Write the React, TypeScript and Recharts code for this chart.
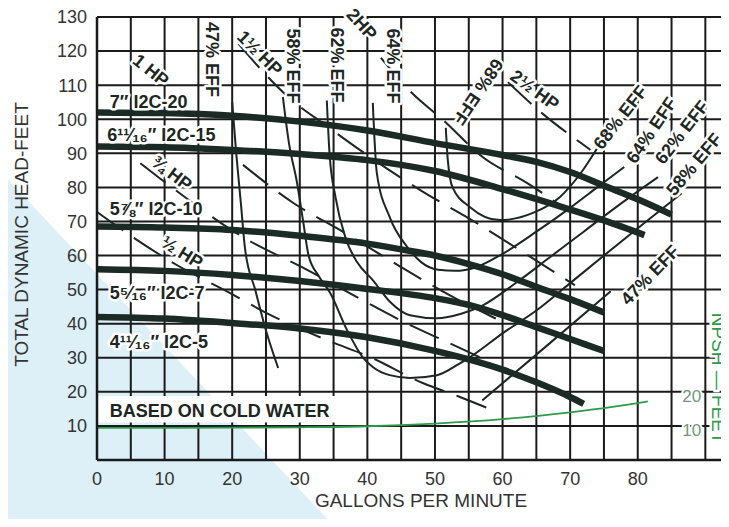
import {
  CartesianGrid,
  ComposedChart,
  Line,
  ReferenceArea,
  ReferenceDot,
  XAxis,
  YAxis,
} from 'recharts';

type Pt = [number, number];

// axes
const gpmTicks = [0, 10, 20, 30, 40, 50, 60, 70, 80];
const gpmGrid = [0, 5, 10, 15, 20, 25, 30, 35, 40, 45, 50, 55, 60, 65, 70, 75, 80, 85, 90];
const headTicks = [10, 20, 30, 40, 50, 60, 70, 80, 90, 100, 110, 120, 130];
const headGrid = [0, 10, 20, 30, 40, 50, 60, 70, 80, 90, 100, 110, 120, 130];
const npshTicks = [10, 20];

// impeller curves (gpm, head ft)
const imp7: Pt[] = [[0, 102], [10, 101.8], [20, 101], [30, 99.3], [40, 96.7], [50, 93], [60, 89.5], [65, 87.5], [70, 84.5], [75, 80.5], [80, 76.5], [85, 72]];
const imp61116: Pt[] = [[0, 92], [10, 91.8], [20, 91], [30, 89.8], [40, 88], [50, 84.8], [60, 79.5], [70, 73.5], [75, 70.3], [81, 66]];
const imp578: Pt[] = [[0, 68.5], [10, 68.2], [20, 67.5], [30, 65.8], [40, 63.5], [45, 61.8], [50, 60], [55, 57.5], [60, 54.5], [65, 50.8], [70, 47.2], [75, 43.3]];
const imp5516: Pt[] = [[0, 56], [10, 55.5], [20, 54.3], [30, 52.5], [40, 50.2], [50, 47.5], [55, 45.5], [60, 42.5], [65, 39], [70, 35.5], [75, 32]];
const imp41116: Pt[] = [[0, 42], [10, 41.5], [20, 40.2], [30, 38.6], [40, 36], [50, 32], [55, 29.5], [60, 26.5], [65, 22.8], [70, 18.5], [72, 16.5]];

// efficiency lines
const eff47a: Pt[] = [[20, 105], [20.6, 90], [21.3, 75], [21.9, 62], [23.4, 50], [25, 38], [26.8, 27]];
const eff47b: Pt[] = [[57, 17.5], [67, 34.3], [76, 49.5]];
const eff58: Pt[] = [[27.5, 106.5], [28.4, 93], [29.6, 81.3], [30.5, 70], [31.3, 60], [32.8, 54], [34.5, 49], [37, 38.1], [39.3, 30.2], [40.8, 27.3], [43.3, 24.9], [46.3, 24.1], [50.3, 24.9], [53.3, 27.9], [55.2, 30.2], [60.1, 37.3], [65.1, 44], [70, 51.9], [75, 60], [80, 68], [86.5, 78.3]];
const eff62: Pt[] = [[34, 105.5], [34.4, 90], [35.3, 77], [36.8, 65], [38.5, 58], [40.8, 52.8], [43.3, 46.5], [46.3, 42.5], [50.3, 41.6], [54, 43], [57, 45.3], [62, 52], [67, 59.5], [72, 67], [77, 74.5], [83, 83]];
const eff64: Pt[] = [[40.8, 104.8], [41.4, 84.2], [43.3, 71.3], [45.9, 62.5], [48, 58], [50.5, 55.8], [53, 55.5], [56, 56.5], [60, 60.5], [65, 67], [70, 74], [74, 80], [78, 86]];
const eff68: Pt[] = [[51.6, 97.5], [51.9, 88], [52.6, 80], [55.2, 74.2], [59.6, 70.4], [64.5, 72.5], [68.5, 77.2], [71.5, 84], [74, 91.5]];

// horsepower lines
const hp12: Pt[] = [[0, 72.8], [5.3, 65.4], [12, 57], [19.7, 49], [25.1, 43.1], [34, 35.2], [40.4, 30.2], [48.2, 22.6], [53.7, 18.5], [57.7, 15.3]];
const hp34: Pt[] = [[6.4, 87.1], [11.2, 79.8], [21.6, 65.4], [31.1, 55.8], [39.3, 46.9], [44.8, 41.1], [51.8, 34.6], [58.1, 28.8]];
const hp1: Pt[] = [[21.6, 86.6], [29, 75.5], [36.7, 66.6], [44, 57.8], [52.7, 47.8], [59, 41.5]];
const hp112: Pt[] = [[20.9, 122.2], [28.3, 106.5], [34, 98], [40.4, 88.9], [48, 79], [56.2, 69.5], [63, 61], [70.7, 51.3]];
const hp2: Pt[] = [[42, 118], [46.6, 107.7], [51.2, 99.8], [57, 89], [63.6, 81.3], [68.5, 74.8]];
const hp212: Pt[] = [[60.8, 110.9], [66, 101.5], [71.4, 93.3], [73, 91]];

// NPSH required (right scale)
const npsh: Pt[] = [[0, 10.6], [20, 10.7], [30, 10.8], [40, 11.1], [50, 11.9], [60, 13.2], [70, 15.2], [76, 16.7], [81.5, 18.4]];

const curveLabels = [
  { x: 1.9, y: 105.2, text: '7″ I2C-20' },
  { x: 1.5, y: 95.4, text: '6¹¹⁄₁₆″ I2C-15' },
  { x: 1.9, y: 73.8, text: '5⅞″ I2C-10' },
  { x: 1.9, y: 49.1, text: '5⁵⁄₁₆″ I2C-7' },
  { x: 1.9, y: 34.8, text: '4¹¹⁄₁₆″ I2C-5' },
  { x: 1.9, y: 14.6, text: 'BASED ON COLD WATER' },
];

const tiltedLabels = [
  { x: 8, y: 114.4, text: '1 HP', angle: 39 },
  { x: 24.1, y: 119.4, text: '1½ HP', angle: 45 },
  { x: 39.2, y: 127.9, text: '2HP', angle: 48 },
  { x: 64.8, y: 108.6, text: '2½ HP', angle: 36 },
  { x: 11.1, y: 84.2, text: '¾ HP', angle: 37 },
  { x: 12.6, y: 61, text: '½ HP', angle: 32 },
  { x: 17, y: 117.5, text: '47% EFF', angle: 90 },
  { x: 29.1, y: 115.6, text: '58% EFF', angle: 90 },
  { x: 35.5, y: 115.9, text: '62% EFF', angle: 90 },
  { x: 43.8, y: 115.6, text: '64% EFF', angle: 90 },
  { x: 56.4, y: 108, text: '68% EFF', angle: 124 },
  { x: 77.4, y: 100.6, text: '68% EFF', angle: -52 },
  { x: 82, y: 96.8, text: '64% EFF', angle: -56 },
  { x: 86.5, y: 96.2, text: '62% EFF', angle: -52 },
  { x: 88.3, y: 86.8, text: '58% EFF', angle: -50 },
  { x: 81.8, y: 54.3, text: '47% EFF', angle: -46 },
];

const FONT = '"Liberation Sans", Arial, Helvetica, sans-serif';
const INK = '#1c2622';
const CURVE = '#1b2a25';
const GREEN = '#2e9a4c';

const rows = (pts: Pt[]) => pts.map(([x, y]) => ({ x, y }));

function labelShape(text: string, angle: number, anchor: 'start' | 'middle') {
  return (p: any) => (
    <text
      x={p.cx}
      y={p.cy}
      dy="0.35em"
      textAnchor={anchor}
      transform={angle ? `rotate(${angle} ${p.cx} ${p.cy})` : undefined}
      fontFamily={FONT}
      fontSize={18}
      fontWeight="bold"
      fill={INK}
      stroke="#fff"
      strokeWidth={5}
      strokeLinejoin="round"
      paintOrder="stroke"
    >
      {text}
    </text>
  );
}

export default function App() {
  const effLines = [eff47a, eff47b, eff58, eff62, eff64, eff68];
  const hpLines = [hp12, hp34, hp1, hp112, hp2, hp212];
  const impellers = [imp7, imp61116, imp578, imp5516, imp41116];

  return (
    <div style={{ position: 'relative', width: 729, height: 527, margin: -8, overflow: 'hidden' }}>
      <div
        style={{
          position: 'absolute',
          inset: 0,
          background: '#ddf0f8',
          clipPath: 'polygon(0 171px, 335px 527px, 0 527px)',
        }}
      />
      <div style={{ position: 'absolute', left: 0, top: 0 }}>
        <ComposedChart
          width={729}
          height={527}
          margin={{ top: 17, right: 0, bottom: 0, left: 0 }}
          style={{ fontFamily: FONT }}
        >
          <CartesianGrid
            verticalValues={gpmGrid}
            horizontalValues={headGrid}
            stroke="#1a1a1a"
            strokeWidth={2}
            strokeDasharray=""
          />
          <XAxis
            type="number"
            dataKey="x"
            domain={[0, 93.5]}
            ticks={gpmTicks}
            height={67}
            tickSize={0}
            tickMargin={12}
            tickLine={false}
            axisLine={{ stroke: '#1a1a1a', strokeWidth: 2.5 }}
            tick={{ fill: '#333', fontSize: 18 }}
            label={{
              content: (props: any) => {
                const vb = props.viewBox;
                return (
                  <text
                    x={vb.x + vb.width / 2 + 8}
                    y={500}
                    dy="0.35em"
                    textAnchor="middle"
                    fontFamily={FONT}
                    fontSize={19}
                    fill="#333"
                  >
                    GALLONS PER MINUTE
                  </text>
                );
              },
            }}
          />
          <YAxis
            type="number"
            domain={[0, 130]}
            ticks={headTicks}
            width={97}
            tickSize={0}
            tickMargin={10}
            tickLine={false}
            axisLine={{ stroke: '#1a1a1a', strokeWidth: 2.5 }}
            tick={{ fill: '#333', fontSize: 18 }}
            label={{
              content: (props: any) => {
                const vb = props.viewBox;
                const cx = vb.x + 21;
                const cy = vb.y + vb.height / 2 - 4;
                return (
                  <text
                    x={cx}
                    y={cy}
                    dy="0.35em"
                    textAnchor="middle"
                    transform={`rotate(-90 ${cx} ${cy})`}
                    fontFamily={FONT}
                    fontSize={19}
                    fill="#333"
                  >
                    TOTAL DYNAMIC HEAD-FEET
                  </text>
                );
              },
            }}
          />
          <YAxis
            yAxisId="npsh"
            orientation="right"
            type="number"
            domain={[1.2, 131.2]}
            ticks={npshTicks}
            width={0}
            tick={false}
            tickLine={false}
            axisLine={false}
          />

          <ReferenceArea x1={0} x2={37} y1={11} y2={18.8} fill="#fff" fillOpacity={1} stroke="none" />

          {effLines.map((pts, i) => (
            <Line
              key={`eff-${i}`}
              data={rows(pts)}
              dataKey="y"
              type="monotone"
              stroke={INK}
              strokeWidth={2}
              dot={false}
              activeDot={false}
              isAnimationActive={false}
            />
          ))}
          {hpLines.map((pts, i) => (
            <Line
              key={`hp-${i}`}
              data={rows(pts)}
              dataKey="y"
              type="monotone"
              stroke={INK}
              strokeWidth={2}
              strokeDasharray="32 13"
              dot={false}
              activeDot={false}
              isAnimationActive={false}
            />
          ))}
          {impellers.map((pts, i) => (
            <Line
              key={`imp-${i}`}
              data={rows(pts)}
              dataKey="y"
              type="monotone"
              stroke={CURVE}
              strokeWidth={6.5}
              strokeLinecap="butt"
              dot={false}
              activeDot={false}
              isAnimationActive={false}
            />
          ))}
          <Line
            yAxisId="npsh"
            data={rows(npsh)}
            dataKey="y"
            type="monotone"
            stroke={GREEN}
            strokeWidth={1.8}
            dot={false}
            activeDot={false}
            isAnimationActive={false}
          />

          {curveLabels.map((l, i) => (
            <ReferenceDot
              key={`cl-${i}`}
              x={l.x}
              y={l.y}
              r={0}
              ifOverflow="visible"
              shape={labelShape(l.text, 0, 'start')}
            />
          ))}
          {tiltedLabels.map((l, i) => (
            <ReferenceDot
              key={`tl-${i}`}
              x={l.x}
              y={l.y}
              r={0}
              ifOverflow="visible"
              shape={labelShape(l.text, l.angle, 'middle')}
            />
          ))}
          {npshTicks.map((v) => (
            <ReferenceDot
              key={`npsh-${v}`}
              yAxisId="npsh"
              x={88}
              y={v}
              r={0}
              ifOverflow="visible"
              shape={(p: any) => (
                <text
                  x={p.cx}
                  y={p.cy}
                  dy="0.35em"
                  textAnchor="middle"
                  fontFamily={FONT}
                  fontSize={17}
                  fill="#6f9a7d"
                  stroke="#fff"
                  strokeWidth={4}
                  paintOrder="stroke"
                >
                  {v}
                </text>
              )}
            />
          ))}
          <ReferenceDot
            x={91.9}
            y={24}
            r={0}
            ifOverflow="visible"
            shape={(p: any) => (
              <text
                x={p.cx}
                y={p.cy}
                dy="0.35em"
                textAnchor="middle"
                transform={`rotate(90 ${p.cx} ${p.cy})`}
                fontFamily={FONT}
                fontSize={19}
                fill={GREEN}
                stroke="#fff"
                strokeWidth={5}
                paintOrder="stroke"
              >
                NPSH — FEET
              </text>
            )}
          />
        </ComposedChart>
      </div>
    </div>
  );
}
